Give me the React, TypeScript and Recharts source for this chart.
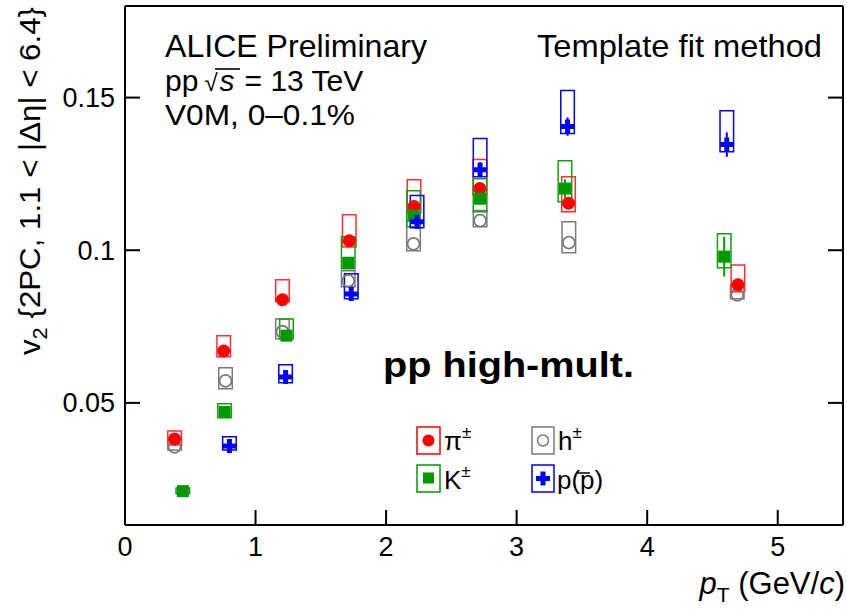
import React from "react";
import { ScatterChart, Scatter, XAxis, YAxis, ReferenceArea, ErrorBar } from "recharts";

const FONT = "'Liberation Sans', Arial, Helvetica, sans-serif";

// ── data (pT in GeV/c, v2 values, systematic box edges, stat errors) ─────────

const piPt = [0.38, 0.756, 1.206, 1.718, 2.214, 2.718, 3.397, 4.695];
const piV2 = [0.0382, 0.067, 0.0838, 0.1031, 0.1143, 0.1202, 0.1154, 0.0887];
const piSysLo = [0.0362, 0.0651, 0.0831, 0.1011, 0.1123, 0.1182, 0.1126, 0.0864];
const piSysHi = [0.0408, 0.072, 0.0903, 0.1116, 0.1231, 0.1297, 0.1241, 0.0952];
const piStat = [0.0005, 0.0005, 0.0006, 0.0008, 0.001, 0.001, 0.0015, 0.002];

const kPt = [0.443, 0.763, 1.237, 1.71, 2.21, 2.72, 3.37, 4.59];
const kV2 = [0.0211, 0.047, 0.072, 0.0959, 0.1113, 0.1169, 0.1202, 0.0979];
const kSysLo = [0.0202, 0.0451, 0.071, 0.0939, 0.1077, 0.1126, 0.1159, 0.0943];
const kSysHi = [0.0221, 0.0497, 0.0775, 0.1044, 0.1195, 0.1234, 0.1293, 0.1054];
const kStat = [0.0005, 0.0005, 0.0008, 0.001, 0.0015, 0.002, 0.003, 0.0065];

const hPt = [0.38, 0.77, 1.206, 1.71, 2.21, 2.72, 3.4, 4.69];
const hV2 = [0.0356, 0.0572, 0.0733, 0.09, 0.1021, 0.1097, 0.1025, 0.0854];
const hSysLo = [0.0346, 0.0546, 0.071, 0.088, 0.0998, 0.1077, 0.0992, 0.0841];
const hSysHi = [0.0382, 0.0615, 0.0775, 0.0933, 0.1097, 0.113, 0.1093, 0.0887];

const pPt = [0.8, 1.23, 1.733, 2.237, 2.72, 3.39, 4.61];
const pV2 = [0.0359, 0.0585, 0.0857, 0.1093, 0.1264, 0.1405, 0.1346];
const pSysLo = [0.0346, 0.0566, 0.0841, 0.1074, 0.1241, 0.1382, 0.1323];
const pSysHi = [0.0389, 0.0625, 0.0923, 0.1179, 0.1366, 0.1523, 0.1457];
const pStat = [0.0008, 0.001, 0.0015, 0.002, 0.0025, 0.003, 0.004];

const xTicks = [0, 1, 2, 3, 4, 5];
const yTicks = [0.05, 0.1, 0.15];

const BOX_HALF = 0.052;

// ── markers ──────────────────────────────────────────────────────────────────

const RED = "#ff0000";
const GREEN = "#009a00";
const GRAY = "#7a7a7a";
const BLUE = "#0000ff";

function crossPath(cx: number, cy: number) {
  return `M${cx - 2.5},${cy - 7}h5v4.5h4.5v5h-4.5v4.5h-5v-4.5h-4.5v-5h4.5z`;
}

const piShape = (p: any) => <circle cx={p.cx} cy={p.cy} r={6.5} fill={RED} />;
const kShape = (p: any) => <rect x={p.cx - 6} y={p.cy - 6} width={12} height={12} fill={GREEN} />;
const hShape = (p: any) => <circle cx={p.cx} cy={p.cy} r={6} fill="none" stroke={GRAY} strokeWidth={1.8} />;
const pShape = (p: any) => <path d={crossPath(p.cx, p.cy)} fill={BLUE} />;

interface Species {
  name: string;
  color: string;
  boxColor: string;
  pt: number[];
  v2: number[];
  lo: number[];
  hi: number[];
  stat?: number[];
  shape: (p: any) => React.ReactElement;
}

const species: Species[] = [
  { name: "h", color: GRAY, boxColor: GRAY, pt: hPt, v2: hV2, lo: hSysLo, hi: hSysHi, shape: hShape },
  { name: "pi", color: RED, boxColor: "#ff3030", pt: piPt, v2: piV2, lo: piSysLo, hi: piSysHi, stat: piStat, shape: piShape },
  { name: "k", color: GREEN, boxColor: "#10a010", pt: kPt, v2: kV2, lo: kSysLo, hi: kSysHi, stat: kStat, shape: kShape },
  { name: "p", color: BLUE, boxColor: BLUE, pt: pPt, v2: pV2, lo: pSysLo, hi: pSysHi, stat: pStat, shape: pShape },
];

// ── overlay texts + legend ───────────────────────────────────────────────────

function Overlay() {
  const t = { fontFamily: FONT, fill: "#000" } as const;
  return (
    <svg width={847} height={610} style={{ position: "absolute", left: 0, top: 0, pointerEvents: "none" }}>
      <text x={165} y={57} fontSize={32} textLength={262} lengthAdjust="spacingAndGlyphs" {...t}>ALICE Preliminary</text>
      <text x={537} y={57} fontSize={32} textLength={285} lengthAdjust="spacingAndGlyphs" {...t}>Template fit method</text>
      <text x={165} y={91} fontSize={30} {...t}>
        pp<tspan dx={6} fontSize={24}>√</tspan>
        <tspan dx={2} fontStyle="italic">s</tspan>
        <tspan dx={10}>= 13 TeV</tspan>
      </text>
      <line x1={215} x2={240} y1={69} y2={69} stroke="#000" strokeWidth={1.6} />
      <text x={165} y={124.5} fontSize={30} textLength={190} lengthAdjust="spacingAndGlyphs" {...t}>V0M, 0–0.1%</text>

      <text x={383} y={377} fontSize={35} fontWeight="bold" textLength={251} lengthAdjust="spacingAndGlyphs" {...t}>
        pp high-mult.
      </text>

      {/* y axis title */}
      <text transform="translate(40,355) rotate(-90)" fontSize={30} textLength={348} lengthAdjust="spacingAndGlyphs" {...t}>
        v<tspan fontSize={21} dy={7}>2</tspan><tspan dy={-7}> {"{"}2PC, 1.1 &lt; |Δη| &lt; 6.4{"}"}</tspan>
      </text>

      {/* x axis title */}
      <text x={845} y={594} fontSize={31} textAnchor="end" {...t}>
        <tspan fontStyle="italic">p</tspan>
        <tspan fontSize={21} dy={8}>T</tspan>
        <tspan dy={-8}> (GeV/</tspan>
        <tspan fontStyle="italic">c</tspan>
        <tspan>)</tspan>
      </text>

      {/* legend */}
      <rect x={417} y={427} width={23} height={27} fill="none" stroke={RED} strokeWidth={1.5} />
      <circle cx={428.5} cy={440.5} r={6} fill={RED} />
      <text x={444} y={450} fontSize={26} {...t}>π<tspan fontSize={17} dy={-12}>±</tspan></text>

      <rect x={532} y={427} width={22} height={27} fill="none" stroke={GRAY} strokeWidth={1.5} />
      <circle cx={543} cy={440.5} r={5.5} fill="none" stroke={GRAY} strokeWidth={1.5} />
      <text x={558} y={450} fontSize={26} {...t}>h<tspan fontSize={17} dy={-12}>±</tspan></text>

      <rect x={417} y={465} width={23} height={27} fill="none" stroke={GREEN} strokeWidth={1.5} />
      <rect x={423} y={472.5} width={11} height={11} fill={GREEN} />
      <text x={444} y={489} fontSize={26} {...t}>K<tspan fontSize={17} dy={-12}>±</tspan></text>

      <rect x={532} y={465} width={22} height={27} fill="none" stroke={BLUE} strokeWidth={1.5} />
      <path d={crossPath(543, 478.5)} fill={BLUE} />
      <text x={557} y={489} fontSize={26} {...t}>p(p)</text>
      <line x1={576} x2={590} y1={473} y2={473} stroke="#000" strokeWidth={1.5} />
    </svg>
  );
}

// ── chart ────────────────────────────────────────────────────────────────────

export default function App() {
  const tickStyle = { fontSize: 27, fill: "#000", fontFamily: FONT };
  return (
    <div style={{ position: "absolute", left: 0, top: 0, width: 847, height: 610, background: "#fff" }}>
      <ScatterChart width={847} height={610} margin={{ top: 5, right: 3, bottom: 55, left: 65 }}>
        <XAxis
          type="number"
          dataKey="x"
          domain={[0, 5.5]}
          ticks={xTicks}
          allowDataOverflow
          height={30}
          tick={tickStyle}
          tickSize={-15}
          tickMargin={27}
          axisLine={{ stroke: "#000", strokeWidth: 2 }}
          tickLine={{ stroke: "#000", strokeWidth: 2 }}
        />
        <XAxis
          xAxisId="top"
          orientation="top"
          type="number"
          domain={[0, 5.5]}
          ticks={[1, 2, 3, 4, 5]}
          allowDataOverflow
          height={1}
          tickFormatter={() => ""}
          tickSize={-15}
          axisLine={{ stroke: "#000", strokeWidth: 2 }}
          tickLine={{ stroke: "#000", strokeWidth: 2 }}
        />
        <YAxis
          type="number"
          dataKey="y"
          domain={[0.01, 0.18]}
          ticks={yTicks}
          allowDataOverflow
          width={60}
          tick={tickStyle}
          tickFormatter={(v: number) => String(v)}
          tickSize={-15}
          tickMargin={25}
          axisLine={{ stroke: "#000", strokeWidth: 2 }}
          tickLine={{ stroke: "#000", strokeWidth: 2 }}
        />
        <YAxis
          yAxisId="right"
          orientation="right"
          type="number"
          domain={[0.01, 0.18]}
          ticks={yTicks}
          allowDataOverflow
          width={1}
          tickFormatter={() => ""}
          tickSize={-15}
          axisLine={{ stroke: "#000", strokeWidth: 2 }}
          tickLine={{ stroke: "#000", strokeWidth: 2 }}
        />

        {species.map((s) =>
          s.pt.map((x, i) => (
            <ReferenceArea
              key={`${s.name}-box-${i}`}
              x1={x - BOX_HALF}
              x2={x + BOX_HALF}
              y1={s.lo[i]}
              y2={s.hi[i]}
              fill="none"
              fillOpacity={0}
              stroke={s.boxColor}
              strokeWidth={1.5}
              strokeOpacity={1}
              ifOverflow="visible"
            />
          ))
        )}

        {species.map((s) => (
          <Scatter
            key={s.name}
            data={s.pt.map((x, i) => ({ x, y: s.v2[i], e: s.stat ? s.stat[i] : 0 }))}
            shape={s.shape}
            isAnimationActive={false}
          >
            {s.stat && <ErrorBar dataKey="e" direction="y" width={0} stroke={s.color} strokeWidth={2} />}
          </Scatter>
        ))}
      </ScatterChart>
      <Overlay />
    </div>
  );
}
